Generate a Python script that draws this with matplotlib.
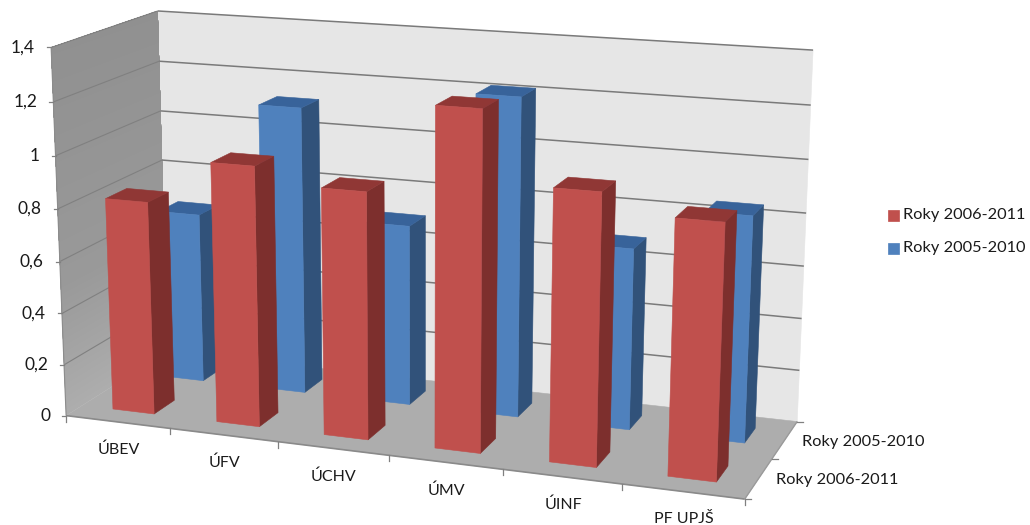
import numpy as np
import matplotlib
matplotlib.use("Agg")
import matplotlib.pyplot as plt
from matplotlib.patches import Polygon, Rectangle

plt.rcParams['font.family'] = ['Lato', 'DejaVu Sans']

categories = ["ÚBEV", "ÚFV", "ÚCHV", "ÚMV", "ÚINF", "PF UPJŠ"]
series_names = ["Roky 2006-2011", "Roky 2005-2010"]
values_2006 = [0.82, 0.99, 0.93, 1.26, 1.00, 0.93]
values_2005 = [0.67, 1.12, 0.70, 1.22, 0.69, 0.85]
z_ticks = [0, 0.2, 0.4, 0.6, 0.8, 1, 1.2, 1.4]
z_labels = ["0", "0,2", "0,4", "0,6", "0,8", "1", "1,2", "1,4"]

# camera fit: (category, row, value) -> pixel position of the chart box
world = np.array([(0, 0, 0), (0, 0, 1.4), (0, 2, 1.4), (0, 2, 0), (6, 2, 1.2), (6, 2, 0), (6, 0, 0),
                  (1, 0, 0), (2, 0, 0), (3, 0, 0), (4, 0, 0), (5, 0, 0), (6, 1, 0),
                  (0, 0, 0.8), (0, 2, 0.8), (6, 2, 0.8), (6, 2, 0.4)], float)
pixel = np.array([(67, 415), (51, 48), (158, 11), (167, 352), (811, 105), (797, 421), (745, 499),
                  (170, 428), (278, 442), (389, 456), (503, 470), (621, 484), (772, 458),
                  (57, 208), (162, 160), (806, 213), (802, 319)], float)

# reweighted linear fit, so the residual is close to the error in pixels
w_off = world.mean(axis=0)
w_scale = world.std(axis=0)
p_off = pixel.mean(axis=0)
p_scale = pixel.std(axis=0)
X = (world - w_off) / w_scale
P = (pixel - p_off) / p_scale
weights = np.ones(len(X))
for _ in range(30):
    rows = []
    for (x, y, z), (u, v), wt in zip(X, P, weights):
        rows.append(np.array([x, y, z, 1, 0, 0, 0, 0, -u*x, -u*y, -u*z, -u]) * wt)
        rows.append(np.array([0, 0, 0, 0, x, y, z, 1, -v*x, -v*y, -v*z, -v]) * wt)
    cam = np.linalg.svd(np.array(rows))[2][-1].reshape(3, 4)
    weights = 1 / np.abs(cam[2] @ np.c_[X, np.ones(len(X))].T)


def project(x, y, z):
    q = (np.array([x, y, z], float) - w_off) / w_scale
    p = cam @ np.append(q, 1.0)
    return p[:2] / p[2] * p_scale + p_off


def face(ax, corners, color, zorder=2, edge=None, lw=0.4):
    ax.add_patch(Polygon([project(*c) for c in corners], closed=True, facecolor=color,
                         edgecolor=edge or color, linewidth=lw, zorder=zorder))


def line(ax, a, b, color="#7f7f7f", lw=1.0, zorder=1.5):
    pa, pb = project(*a), project(*b)
    ax.plot([pa[0], pb[0]], [pa[1], pb[1]], color=color, lw=lw, zorder=zorder, solid_capstyle="butt")


def bar(ax, c, r, value, front, side, top):
    x0, x1 = c + 0.3, c + 0.7
    y0, y1 = r + 0.3, r + 0.7
    face(ax, [(x1, y0, 0), (x1, y1, 0), (x1, y1, value), (x1, y0, value)], side, 3)
    face(ax, [(x0, y0, value), (x1, y0, value), (x1, y1, value), (x0, y1, value)], top, 3)
    face(ax, [(x0, y0, 0), (x1, y0, 0), (x1, y0, value), (x0, y0, value)], front, 3)


fig = plt.figure(figsize=(10.3, 5.25), dpi=100, facecolor="white")
ax = fig.add_axes([0, 0, 1, 1])
ax.set_xlim(0, 1030)
ax.set_ylim(525, 0)
ax.axis("off")

# walls and floor
face(ax, [(0, 2, 0), (6, 2, 0), (6, 2, 1.4), (0, 2, 1.4)], "#e6e6e6", 1)
wall_z = np.linspace(0, 1.4, 57)
wall_grey = np.interp(wall_z, [0, 0.5, 1.4], [0.68, 0.60, 0.565])
for i in range(len(wall_z) - 1):
    # each strip runs to the top, the next one paints over it
    face(ax, [(0, 0, wall_z[i]), (0, 2, wall_z[i]), (0, 2, 1.4), (0, 0, 1.4)], str(wall_grey[i]), 1, lw=0)
face(ax, [(0, 0, 0), (6, 0, 0), (6, 2, 0), (0, 2, 0)], "#adadad", 1)

# gridlines on both walls
for z in z_ticks[1:]:
    line(ax, (0, 2, z), (6, 2, z), "#7a7a7a", 1.1)
    line(ax, (0, 0, z), (0, 2, z), "#808080", 0.8)
line(ax, (0, 0, 0), (6, 0, 0), "#8a8a8a", 1.2)
line(ax, (6, 0, 0), (6, 2, 0), "#9a9a9a", 1.0)
line(ax, (0, 0, 0), (0, 0, 1.4), "#8c8c8c", 0.8)

# ticks and tick labels
for z, label in zip(z_ticks, z_labels):
    u, v = project(0, 0, z)
    ax.plot([u - 4, u], [v, v], color="#808080", lw=0.9, zorder=1.5)
    ax.text(u - 16, v, label, ha="right", va="center", fontsize=12.5, color="#1a1a1a")
for i in range(len(categories) + 1):
    u, v = project(i, 0, 0)
    ax.plot([u, u], [v, v + 6], color="#808080", lw=0.9, zorder=1.5)
for i, name in enumerate(categories):
    u, v = project(i + 0.5, 0, 0)
    ax.text(u + 1, v + 28, name, ha="center", va="center", fontsize=11.5, color="#1a1a1a")
for r in range(3):
    u, v = project(6, r, 0)
    ax.plot([u, u + 6], [v, v], color="#808080", lw=0.9, zorder=1.5)
for r, name in enumerate(series_names):
    u, v = project(6, r + 0.5, 0)
    ax.text(u + 17, v + 2, name, ha="left", va="center", fontsize=11.8, color="#1a1a1a")

# back row first so the front row covers it
for c, value in enumerate(values_2005):
    bar(ax, c, 1, value, "#4f81bd", "#31527a", "#38639a")
for c, value in enumerate(values_2006):
    bar(ax, c, 0, value, "#c0504d", "#7d2f2d", "#903735")

# legend
for name, color, y in zip(series_names, ["#c0504d", "#4f81bd"], [215, 248]):
    ax.add_patch(Rectangle((888, y - 5.5), 10.5, 11, facecolor=color, edgecolor=color, lw=0.5))
    ax.text(903, y, name, ha="left", va="center", fontsize=11.8, color="#1a1a1a")

fig.savefig("out.png", dpi=100)
